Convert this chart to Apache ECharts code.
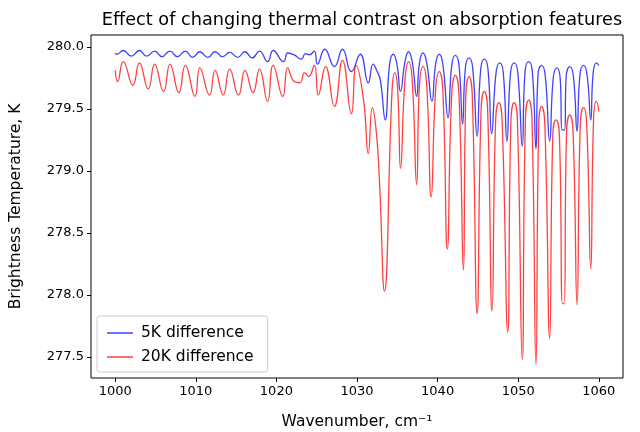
<!DOCTYPE html>
<html>
<head>
    <meta charset="UTF-8">
    <title>Thermal contrast</title>
    <script src="https://cdn.jsdelivr.net/npm/echarts@6/dist/echarts.min.js"></script>
    <style>
        body { margin: 0; background: #fff; }
        #chart { width: 640px; height: 432px; }
    </style>
</head>
<body>
    <div id="chart"></div>
    <script>
        // [wavenumber, brightness temperature]
        var fiveK = [
            [1000.0, 279.950], [1000.2, 279.940], [1001.0, 279.970], [1002.0, 279.925],
            [1003.0, 279.970], [1003.9, 279.925], [1004.9, 279.965], [1005.8, 279.920],
            [1006.8, 279.965], [1007.7, 279.920], [1008.7, 279.965], [1009.6, 279.915],
            [1010.5, 279.960], [1011.5, 279.915], [1012.4, 279.960], [1013.3, 279.920],
            [1014.2, 279.955], [1015.2, 279.915], [1016.1, 279.960], [1017.0, 279.910],
            [1017.9, 279.965], [1018.9, 279.880], [1019.6, 279.970], [1020.9, 279.880],
            [1021.4, 279.950], [1022.2, 279.935], [1023.1, 279.900], [1023.6, 279.945],
            [1024.1, 279.935], [1024.7, 279.965], [1025.1, 279.860], [1026.0, 279.980],
            [1027.2, 279.840], [1028.2, 279.980], [1029.3, 279.800], [1030.4, 279.940],
            [1031.4, 279.710], [1032.0, 279.860], [1032.5, 279.800], [1032.9, 279.730],
            [1033.5, 279.410],
            [1034.05, 279.86], [1034.5, 279.94], [1034.95, 279.86], [1035.4, 279.64],
            [1035.95, 279.88], [1036.4, 279.96], [1036.85, 279.88], [1037.4, 279.60],
            [1037.75, 279.87], [1038.2, 279.95], [1038.65, 279.87], [1039.3, 279.56],
            [1039.75, 279.86], [1040.2, 279.94], [1040.65, 279.86], [1041.3, 279.43],
            [1041.75, 279.85], [1042.2, 279.93], [1042.65, 279.85], [1043.1, 279.38],
            [1043.45, 279.83], [1043.9, 279.91], [1044.35, 279.83], [1044.9, 279.28],
            [1045.35, 279.82], [1045.8, 279.90], [1046.25, 279.82], [1046.7, 279.30],
            [1047.25, 279.79], [1047.7, 279.87], [1048.15, 279.79], [1048.6, 279.24],
            [1049.05, 279.79], [1049.5, 279.87], [1049.95, 279.79], [1050.5, 279.20],
            [1050.85, 279.80], [1051.3, 279.88], [1051.75, 279.80], [1052.2, 279.18],
            [1052.45, 279.77], [1052.9, 279.85], [1053.35, 279.77], [1053.9, 279.24],
            [1054.35, 279.75], [1054.8, 279.83], [1055.2, 279.75], [1055.45, 279.33],
            [1055.75, 279.33], [1055.95, 279.76], [1056.4, 279.84], [1056.85, 279.76],
            [1057.3, 279.32], [1057.65, 279.77], [1058.1, 279.85], [1058.55, 279.77],
            [1059.0, 279.41], [1059.3, 279.79], [1059.7, 279.87], [1060.0, 279.85]
        ];

        var twentyK = [
            [1000.0, 279.81], [1000.3, 279.72], [1001.0, 279.88], [1002.2, 279.69],
            [1003.0, 279.87], [1004.1, 279.66], [1004.9, 279.86], [1006.0, 279.64],
            [1006.8, 279.86], [1007.9, 279.63], [1008.7, 279.85], [1009.9, 279.60],
            [1010.5, 279.83], [1011.7, 279.61], [1012.4, 279.81], [1013.4, 279.61],
            [1014.2, 279.82], [1015.3, 279.61], [1016.1, 279.81], [1017.1, 279.63],
            [1017.9, 279.82], [1018.9, 279.56], [1019.6, 279.85], [1020.8, 279.60],
            [1021.4, 279.83], [1022.2, 279.72], [1022.9, 279.71], [1023.5, 279.79],
            [1024.0, 279.76], [1024.7, 279.85], [1025.2, 279.61], [1026.1, 279.84],
            [1027.2, 279.52], [1028.2, 279.89], [1029.3, 279.46], [1029.9, 279.85],
            [1030.8, 279.58], [1031.4, 279.14], [1031.9, 279.51], [1032.4, 279.31],
            [1032.8, 278.90], [1033.4, 278.03],
            [1034.35, 279.65], [1034.7, 279.79], [1035.05, 279.65], [1035.4, 279.02],
            [1035.95, 279.73], [1036.4, 279.88], [1036.85, 279.73], [1037.4, 278.89],
            [1037.75, 279.69], [1038.2, 279.84], [1038.65, 279.69], [1039.2, 278.79],
            [1039.75, 279.65], [1040.2, 279.80], [1040.65, 279.65], [1041.2, 278.37],
            [1041.75, 279.62], [1042.2, 279.77], [1042.65, 279.62], [1043.2, 278.20],
            [1043.5, 279.61], [1043.9, 279.76], [1044.3, 279.61], [1044.9, 277.85],
            [1045.4, 279.50], [1045.8, 279.64], [1046.2, 279.50], [1046.75, 277.87],
            [1047.2, 279.41], [1047.6, 279.55], [1048.0, 279.41], [1048.7, 277.70],
            [1049.1, 279.41], [1049.5, 279.55], [1049.9, 279.41], [1050.5, 277.48],
            [1050.9, 279.43], [1051.3, 279.57], [1051.7, 279.43], [1052.2, 277.44],
            [1052.55, 279.38], [1052.9, 279.52], [1053.3, 279.38], [1053.9, 277.65],
            [1054.3, 279.30], [1054.7, 279.41], [1055.1, 279.30], [1055.5, 277.93],
            [1055.7, 277.93], [1056.0, 279.32], [1056.4, 279.45], [1056.8, 279.32],
            [1057.3, 277.92], [1057.7, 279.37], [1058.1, 279.51], [1058.5, 279.37],
            [1059.0, 278.21], [1059.35, 279.42], [1059.7, 279.56], [1060.0, 279.48]
        ];

        var xTicks = [1000, 1010, 1020, 1030, 1040, 1050, 1060];
        var yTicks = [277.5, 278.0, 278.5, 279.0, 279.5, 280.0];

        var font = 'DejaVu Sans';
        var chart = echarts.init(document.getElementById('chart'), null, { renderer: 'canvas' });

        chart.setOption({
            animation: false,
            textStyle: { fontFamily: font },
            title: {
                text: 'Effect of changing thermal contrast on absorption features',
                left: 357,
                top: 6,
                textAlign: 'center',
                textStyle: { fontFamily: font, fontSize: 17.7, fontWeight: 'normal', color: '#000' }
            },
            grid: {
                left: 91, right: 17, top: 35, bottom: 54,
                outerBoundsMode: 'none',
                show: true, borderColor: '#000', borderWidth: 1, backgroundColor: '#fff'
            },
            legend: {
                orient: 'vertical',
                left: 97, top: 316,
                icon: 'rect',
                itemWidth: 26, itemHeight: 1.5,
                itemGap: 8,
                padding: [9, 14, 7, 10],
                borderColor: '#cccccc', borderWidth: 1, borderRadius: 3,
                backgroundColor: 'rgba(255,255,255,0.8)',
                textStyle: { fontFamily: font, fontSize: 15.5, color: '#000', lineHeight: 16, padding: [0, 0, 0, 3] },
                data: ['5K difference', '20K difference']
            },
            xAxis: {
                type: 'value',
                min: 997, max: 1063,
                name: 'Wavenumber, cm⁻¹',
                nameLocation: 'middle',
                nameGap: 36,
                nameTextStyle: { fontFamily: font, fontSize: 15.5, color: '#000' },
                axisLine: { show: false },
                axisTick: { show: true, customValues: xTicks, length: 4, lineStyle: { color: '#000' } },
                axisLabel: {
                    customValues: xTicks, fontFamily: font, fontSize: 13, color: '#000', margin: 7,
                    formatter: function (v) { return String(v); }
                },
                splitLine: { show: false }
            },
            yAxis: {
                type: 'value',
                min: 277.33, max: 280.095,
                name: 'Brightness Temperature, K',
                nameLocation: 'middle',
                nameGap: 67,
                nameTextStyle: { fontFamily: font, fontSize: 15.5, color: '#000' },
                axisLine: { show: false },
                axisTick: { show: true, customValues: yTicks, length: 4, lineStyle: { color: '#000' } },
                axisLabel: {
                    customValues: yTicks, fontFamily: font, fontSize: 13, color: '#000', margin: 7,
                    formatter: function (v) { return v.toFixed(1); }
                },
                splitLine: { show: false }
            },
            series: [
                {
                    name: '5K difference',
                    type: 'line',
                    data: fiveK,
                    showSymbol: false,
                    smooth: 0.5,
                    color: 'rgba(0,0,255,0.75)',
                    lineStyle: { width: 1.3, color: 'rgba(0,0,255,0.75)' }
                },
                {
                    name: '20K difference',
                    type: 'line',
                    data: twentyK,
                    showSymbol: false,
                    smooth: 0.5,
                    color: 'rgba(255,0,0,0.75)',
                    lineStyle: { width: 1.3, color: 'rgba(255,0,0,0.75)' }
                }
            ]
        });
    </script>
</body>
</html>
